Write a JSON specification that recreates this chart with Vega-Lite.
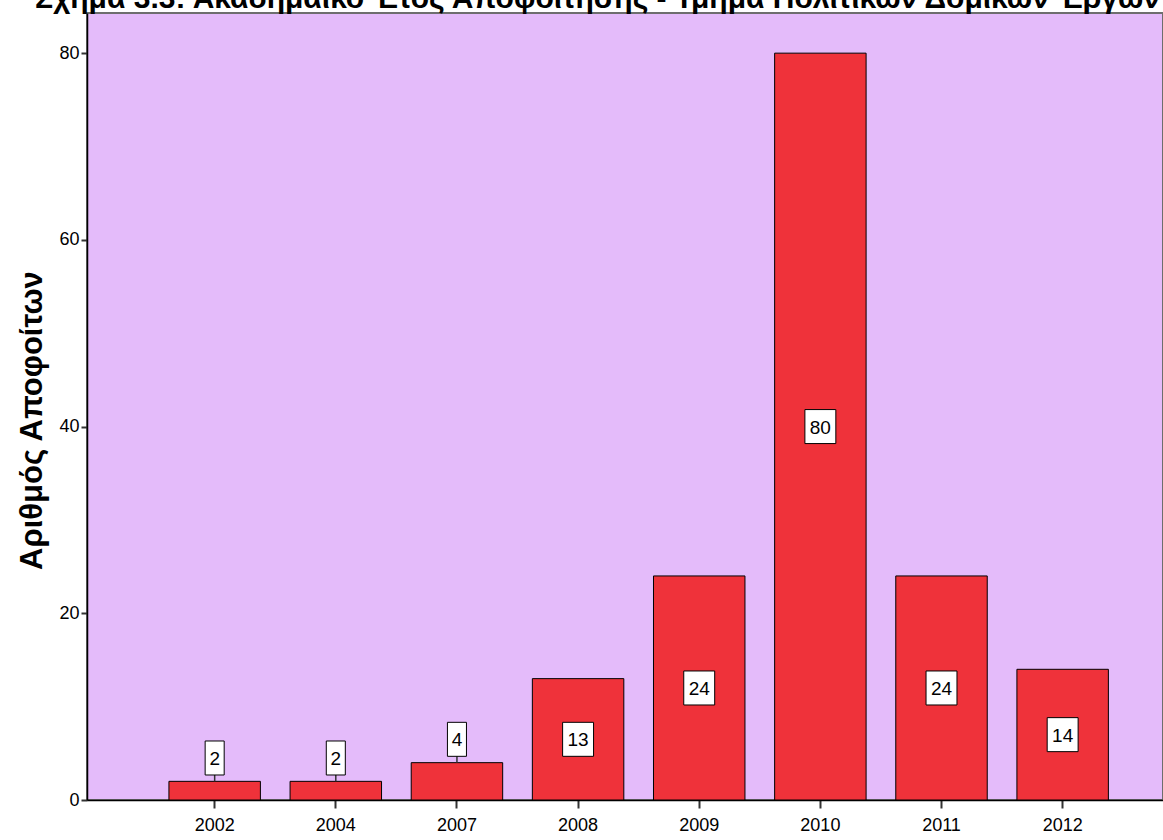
{
  "$schema": "https://vega.github.io/schema/vega-lite/v6.json",
  "autosize": {"type": "none"},
  "padding": {"left": 87, "top": 13, "right": 0, "bottom": 40},
  "width": 1076,
  "height": 787,
  "background": "white",
  "title": {
    "text": "Σχήμα 3.3: Ακαδημαϊκό Έτος Αποφοίτησης - Τμήμα Πολιτικών Δομικών Έργων",
    "anchor": "start",
    "frame": "group",
    "dx": -52,
    "offset": -1,
    "font": "Arial, Liberation Sans",
    "fontSize": 30,
    "fontWeight": "bold",
    "color": "black"
  },
  "config": {
    "view": {"fill": "#E4BBFA", "stroke": "#6e6e6e", "strokeWidth": 2},
    "axis": {"labelFont": "Arial, Liberation Sans", "titleFont": "Arial, Liberation Sans", "grid": false, "domainColor": "black", "tickColor": "#333", "labelColor": "black", "titleColor": "black"}
  },
  "data": {
    "values": [
      {"year": "2002", "n": 2},
      {"year": "2004", "n": 2},
      {"year": "2007", "n": 4},
      {"year": "2008", "n": 13},
      {"year": "2009", "n": 24},
      {"year": "2010", "n": 80},
      {"year": "2011", "n": 24},
      {"year": "2012", "n": 14}
    ]
  },
  "transform": [
    {"calculate": "datum.n >= 10 ? datum.n / 2 : datum.n + 2.5", "as": "lab"}
  ],
  "encoding": {
    "x": {
      "field": "year",
      "type": "nominal",
      "sort": null,
      "scale": {"paddingInner": 0.245, "paddingOuter": 0.5636, "align": 0.6},
      "axis": {"title": null, "labelAngle": 0, "labelFontSize": 18, "tickSize": 8, "tickWidth": 2, "domainWidth": 1.5, "labelPadding": 8}
    }
  },
  "layer": [
    {
      "mark": {"type": "bar", "fill": "#EF323A", "stroke": "black", "strokeWidth": 1},
      "encoding": {
        "y": {
          "field": "n",
          "type": "quantitative",
          "scale": {"domain": [0, 84.3], "nice": false},
          "axis": {
            "title": "Αριθμός Αποφοίτων",
            "titleFontSize": 31,
            "titleFontWeight": "bold",
            "titlePadding": 10,
            "titleY": 407,
            "values": [0, 20, 40, 60, 80],
            "labelFontSize": 18,
            "tickSize": 6,
            "tickWidth": 2,
            "domainWidth": 1.5,
            "labelPadding": 2
          }
        }
      }
    },
    {
      "transform": [{"filter": "datum.n < 10"}],
      "mark": {"type": "rule", "color": "#333", "strokeWidth": 1.5},
      "encoding": {
        "y": {"field": "n", "type": "quantitative"},
        "y2": {"field": "lab"}
      }
    },
    {
      "mark": {"type": "point", "filled": true, "fill": "white", "stroke": "black", "strokeWidth": 1, "opacity": 1, "size": 1156},
      "encoding": {
        "y": {"field": "lab", "type": "quantitative"},
        "shape": {
          "condition": {"test": "datum.n >= 10", "value": "M-0.91,-1H0.91V1H-0.91Z"},
          "value": "M-0.56,-1H0.56V1H-0.56Z"
        }
      }
    },
    {
      "mark": {"type": "text", "font": "Arial, Liberation Sans", "fontSize": 19, "color": "black", "baseline": "middle", "align": "center", "dy": 1},
      "encoding": {
        "y": {"field": "lab", "type": "quantitative"},
        "text": {"field": "n", "type": "quantitative"}
      }
    }
  ]
}
